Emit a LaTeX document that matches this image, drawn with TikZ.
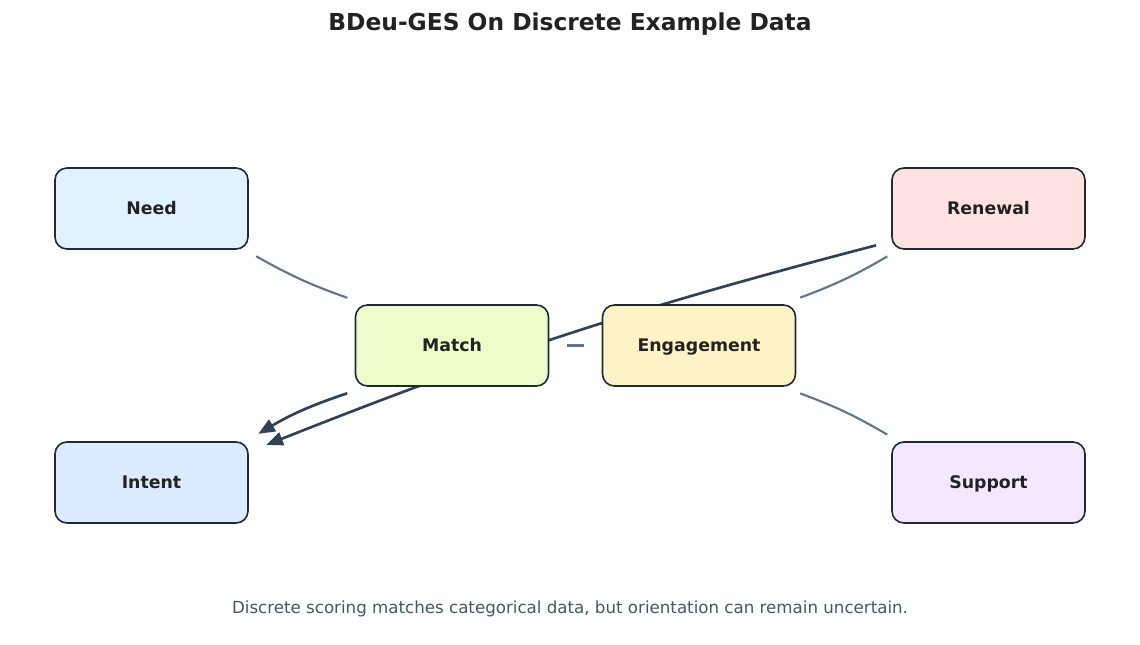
\documentclass[tikz,border=0pt]{standalone}
\usepackage{fontspec}
\setmainfont{DejaVu Sans}
\usetikzlibrary{arrows.meta,backgrounds,calc}
\definecolor{txt}{HTML}{222222}
\definecolor{foot}{HTML}{4A5568}
\definecolor{bord}{HTML}{1F2937}
\definecolor{dark}{HTML}{334155}
\definecolor{soft}{HTML}{64748B}
\definecolor{cneed}{HTML}{E0F2FE}
\definecolor{crenew}{HTML}{FEE2E2}
\definecolor{cmatch}{HTML}{ECFCCB}
\definecolor{cengage}{HTML}{FEF3C7}
\definecolor{cintent}{HTML}{DBEAFE}
\definecolor{csupport}{HTML}{F3E8FF}
\begin{document}
\begin{tikzpicture}[x=0.75pt,y=-0.75pt,
  box/.style={draw=bord, line width=1.2pt, rounded corners=9pt,
    minimum width=144.75pt, minimum height=60.75pt, inner sep=0pt,
    text height=0.88em, text depth=0pt,
    font=\fontsize{13}{15}\selectfont\bfseries, text=txt},
  softedge/.style={draw=soft, line width=1.6pt},
  darkedge/.style={draw=dark, line width=2pt,
    -{Triangle[length=12.5pt,width=10pt]}}
]
\begin{scope}[on background layer]
\fill[white] (0,0) rectangle (1140,644);
\end{scope}
\useasboundingbox (0,0) rectangle (1140,644);
\node[font=\fontsize{17.5}{20}\selectfont\bfseries, text=txt] (title) at (570,24) {BDeu-GES On Discrete Example Data};
\node[font=\fontsize{12.5}{15}\selectfont, text=foot] (footer) at (570,609) {Discrete scoring matches categorical data, but orientation can remain uncertain.};

\node[box, fill=cneed] (need) at (151.5,208.5) {Need};
\node[box, fill=crenew] (renewal) at (988.5,208.5) {Renewal};
\node[box, fill=cmatch] (match) at (452,345.5) {Match};
\node[box, fill=cengage] (engage) at (699,345.5) {Engagement};
\node[box, fill=cintent] (intent) at (151.5,482.5) {Intent};
\node[box, fill=csupport] (support) at (988.5,482.5) {Support};

\begin{scope}[on background layer]
\draw[softedge] ($(need)!86.25pt!(match)$) to[bend right=5] ($(match)!86.25pt!(need)$);
\draw[softedge] ($(engage)!84pt!(renewal)$) to[bend right=5] ($(renewal)!84pt!(engage)$);
\draw[softedge] ($(support)!84pt!(engage)$) to[bend right=5] ($(engage)!84pt!(support)$);
\draw[softedge] ($(match)!86.25pt!(engage)$) -- ($(engage)!86.25pt!(match)$);
\draw[darkedge] ($(match)!86.4pt!(intent)$) to[bend right=6] ($(intent)!88pt!(match)$);
\draw[darkedge] ($(renewal)!88.7pt!(intent)$) to[bend right=3.5] ($(intent)!90.6pt!(renewal)$);
\end{scope}
\end{tikzpicture}
\end{document}
